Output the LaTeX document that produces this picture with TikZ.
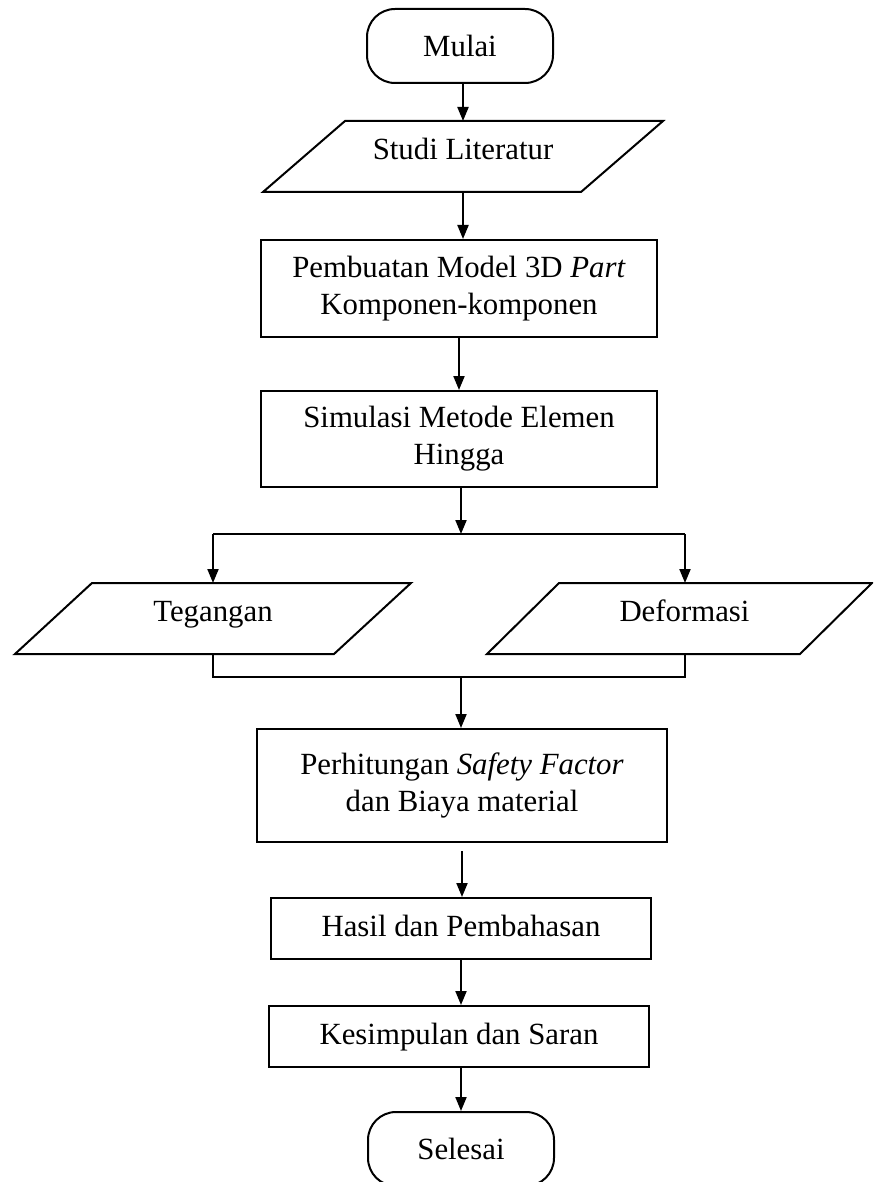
\documentclass[tikz,border=0pt]{standalone}
\usepackage{fontspec}
\setmainfont{Liberation Serif}
\usetikzlibrary{arrows.meta}
\tikzset{
  base/.style={line width=2pt, font=\fontsize{30.8}{37}\selectfont, align=center, inner sep=0pt},
  pill/.style={base, draw, rounded corners=28pt, minimum width=186pt, minimum height=74pt, text height=21pt, text depth=0pt},
  procbox/.style={base, draw},
  onebox/.style={base, draw, text height=21pt, text depth=5pt},
  iobox/.style={base, minimum height=69pt, text height=21pt, text depth=15pt},
  ln/.style={line width=2pt},
  arr/.style={line width=2pt, -{Triangle[length=14pt,width=11pt]}},
}
\newcommand\drawpara[2]{\draw[ln] ([xshift=#2]#1.north west) -- (#1.north east) -- ([xshift=-#2]#1.south east) -- (#1.south west) -- cycle;}
\begin{document}
\begin{tikzpicture}[x=1pt,y=-1pt]
\clip (0,0) rectangle (873,1182);
\fill[white] (0,0) rectangle (873,1182);

\node[pill] (mulai) at (460,46) {Mulai};
\node[iobox, minimum width=398pt] (studi) at (463,156.5) {Studi Literatur};
\drawpara{studi}{82pt}
\node[procbox, minimum width=396pt, minimum height=97pt] (model) at (459,288.5)
  {\raisebox{-3pt}{Pembuatan Model 3D \textit{Part}}\\\raisebox{-3pt}{Komponen-komponen}};
\node[procbox, minimum width=396pt, minimum height=96pt] (sim) at (459,439)
  {Simulasi Metode Elemen\\Hingga};

\coordinate (jb) at (461,534);
\coordinate (jl) at (213,534);
\coordinate (jr) at (685,534);

\node[iobox, minimum width=394pt] (teg) at (213,618.5) {Tegangan};
\drawpara{teg}{77pt}
\node[iobox, minimum width=383pt] (def) at (679.5,618.5) {\hspace*{10pt}Deformasi};
\drawpara{def}{72pt}

\coordinate (ml) at (213,677);
\coordinate (mr) at (685,677);
\coordinate (jm) at (461,677);

\node[procbox, minimum width=410pt, minimum height=113pt] (hitung) at (462,785.5)
  {\raisebox{6pt}{Perhitungan \textit{Safety Factor}}\\\raisebox{6pt}{dan Biaya material}};
\node[onebox, minimum width=380pt, minimum height=61pt] (hasil) at (461,928.5) {Hasil dan Pembahasan};
\node[onebox, minimum width=380pt, minimum height=61pt] (kesim) at (459,1036.5) {Kesimpulan dan Saran};
\node[pill] (selesai) at (461,1149) {Selesai};

\draw[arr] (mulai.south -| studi.north) -- (studi.north);
\draw[arr] (studi.south) -- (studi.south |- model.north);
\draw[arr] (model.south) -- (model.south |- sim.north);
\draw[arr] (sim.south -| jb) -- (jb);
\draw[ln] (jl) -- (jr);
\draw[arr] (jl) -- (jl |- teg.north);
\draw[arr] (jr) -- (jr |- def.north);
\draw[ln] (ml |- teg.south) -- (ml) -- (mr) -- (mr |- def.south);
\draw[arr] (jm) -- (jm |- hitung.north);
\draw[arr, shorten <=8pt] (hitung.south) -- (hitung.south |- hasil.north);
\draw[arr] (hasil.south) -- (hasil.south |- kesim.north);
\draw[arr] (kesim.south -| selesai.north) -- (selesai.north);
\end{tikzpicture}
\end{document}
